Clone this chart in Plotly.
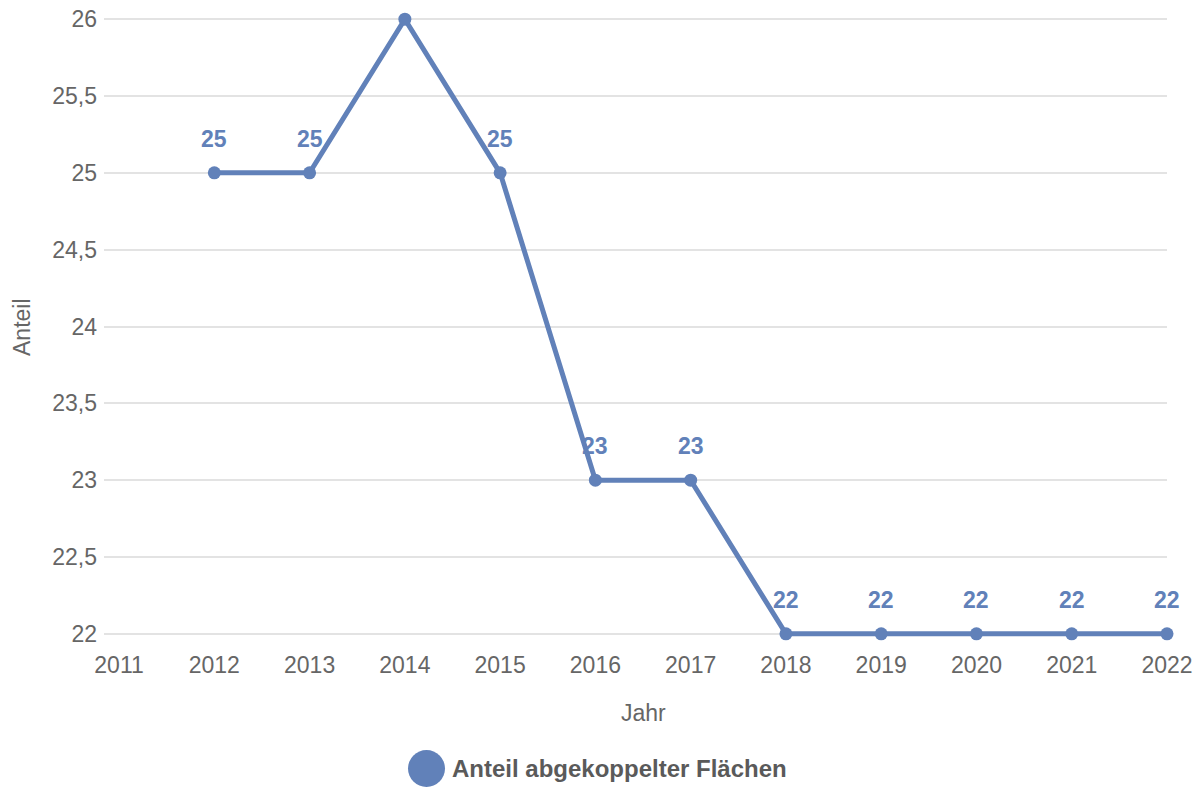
import plotly.graph_objects as go

years = [2012, 2013, 2014, 2015, 2016, 2017, 2018, 2019, 2020, 2021, 2022]
anteil = [25, 25, 26, 25, 23, 23, 22, 22, 22, 22, 22]
point_labels = ["25", "25", "", "25", "23", "23", "22", "22", "22", "22", "22"]
series_name = "Anteil abgekoppelter Flächen"
x_ticks = list(range(2011, 2023))
y_ticks = [22, 22.5, 23, 23.5, 24, 24.5, 25, 25.5, 26]
y_ticktext = ["22", "22,5", "23", "23,5", "24", "24,5", "25", "25,5", "26"]

LINE = "#6181b9"
TXT = "#666666"
FONT = "Liberation Sans, Arial, Helvetica, sans-serif"

fig = go.Figure()
fig.add_trace(go.Scatter(
    x=years, y=anteil, mode="lines+markers", name=series_name,
    line=dict(color=LINE, width=5),
    marker=dict(color=LINE, size=13),
    cliponaxis=False, showlegend=False,
))

for xv, yv, t in zip(years, anteil, point_labels):
    if t:
        fig.add_annotation(x=xv, y=yv, text=t, showarrow=False, yshift=34,
                           font=dict(family=FONT, size=23, color=LINE, weight="bold"))

H = 633
W = 1063
# axis titles
fig.add_annotation(xref="paper", yref="paper", x=(643 - 104) / W, y=-(713 - 643) / H,
                   text="Jahr", showarrow=False, xanchor="center", yanchor="middle",
                   font=dict(family=FONT, size=23, color=TXT))
fig.add_annotation(xref="paper", yref="paper", x=-(104 - 22) / W, y=(643 - 327) / H,
                   text="Anteil", showarrow=False, textangle=-90, xanchor="center", yanchor="middle",
                   font=dict(family=FONT, size=23, color=TXT))

# legend
fig.add_shape(type="circle", xref="paper", yref="paper",
              x0=(408 - 104) / W, x1=(445 - 104) / W,
              y0=-(787 - 643) / H, y1=-(750 - 643) / H,
              fillcolor=LINE, line=dict(width=0))
fig.add_annotation(xref="paper", yref="paper", x=(450 - 104) / W, y=-(768 - 643) / H,
                   text=series_name, showarrow=False, xanchor="left", yanchor="middle",
                   font=dict(family=FONT, size=24, color="#5a5a5a", weight="bold"))

fig.update_layout(
    width=1200, height=800,
    margin=dict(l=104, r=33, t=10, b=157),
    paper_bgcolor="white", plot_bgcolor="white",
    showlegend=False,
    font=dict(family=FONT, color=TXT),
)
fig.update_xaxes(
    range=[2010.842, 2022], tickvals=x_ticks, ticktext=[str(v) for v in x_ticks],
    showgrid=False, zeroline=False, showline=False, automargin=False,
    tickfont=dict(family=FONT, size=23, color=TXT), ticklabelstandoff=6,
)
fig.update_yaxes(
    range=[21.94, 26.06], tickvals=y_ticks, ticktext=y_ticktext,
    showgrid=True, gridcolor="#e3e3e3", gridwidth=1.5, zeroline=False, showline=False,
    automargin=False,
    tickfont=dict(family=FONT, size=23, color=TXT), ticklabelstandoff=6,
)

fig.write_html("out.html")
